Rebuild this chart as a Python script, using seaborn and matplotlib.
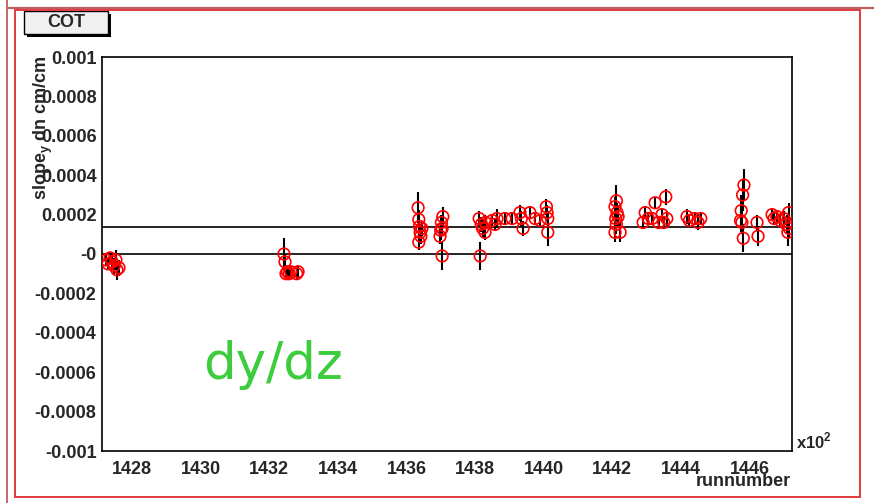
import matplotlib
matplotlib.use("Agg")
import matplotlib.pyplot as plt
import seaborn as sns
import numpy as np
import pandas as pd
from matplotlib.patches import Rectangle
from matplotlib.lines import Line2D
from matplotlib.ticker import MultipleLocator, FixedLocator

# ---------------- data (run number in units of 10^2) ----------------
run_x100 = [
    1427.24, 1427.30, 1427.36, 1427.42, 1427.48, 1427.53, 1427.56, 1427.62,
    1432.43, 1432.46, 1432.49, 1432.53, 1432.58, 1432.63, 1432.80, 1432.84,
    1436.34, 1436.36, 1436.38, 1436.40, 1436.42, 1436.36, 1436.45,
    1436.98, 1437.00, 1437.02, 1437.06, 1437.04, 1437.04,
    1438.15, 1438.12, 1438.18, 1438.22, 1438.29, 1438.30, 1438.50, 1438.58, 1438.64,
    1438.87, 1439.08, 1439.31, 1439.35, 1439.40, 1439.60, 1439.75, 1439.90,
    1440.08, 1440.10, 1440.12, 1440.12,
    1442.08, 1442.12, 1442.14, 1442.10, 1442.17, 1442.12, 1442.08, 1442.23,
    1442.90, 1442.96, 1443.05, 1443.16, 1443.25, 1443.35, 1443.45, 1443.56, 1443.59, 1443.50,
    1444.18, 1444.25, 1444.40, 1444.50, 1444.58,
    1445.84, 1445.80, 1445.76, 1445.74, 1445.78, 1445.82,
    1446.22, 1446.25,
    1446.66, 1446.72, 1446.80, 1446.90, 1447.00, 1447.08, 1447.14, 1447.16, 1447.12,
]
slope = [
    -0.00003, -0.00005, -0.00002, -0.00004, -0.00006, -0.00003, -0.00008, -0.00007,
    0.00000, -0.00004, -0.00010, -0.00009, -0.00010, -0.00009, -0.00010, -0.00009,
    0.000235, 0.000175, 0.00014, 0.00011, 0.00009, 0.00006, 0.00013,
    0.00009, 0.00012, 0.00016, 0.00019, 0.00013, -0.00001,
    -0.00001, 0.00018, 0.00015, 0.00013, 0.00011, 0.00016, 0.00017, 0.00015, 0.00018,
    0.00018, 0.00018, 0.00021, 0.00018, 0.00013, 0.00021, 0.00018, 0.00017,
    0.00024, 0.00021, 0.00018, 0.00011,
    0.00024, 0.00027, 0.00021, 0.00018, 0.00019, 0.00015, 0.00011, 0.00011,
    0.00016, 0.00021, 0.00018, 0.00018, 0.00026, 0.00016, 0.00020, 0.00029, 0.00018, 0.00016,
    0.00019, 0.00017, 0.00018, 0.00016, 0.00018,
    0.00035, 0.00030, 0.00022, 0.00017, 0.00016, 0.00008,
    0.00016, 0.00009,
    0.00020, 0.00018, 0.00019, 0.00017, 0.00018, 0.00015, 0.00021, 0.00013, 0.00011,
]
slope_err = [
    0.00003, 0.00003, 0.00003, 0.00004, 0.00004, 0.00005, 0.00005, 0.00004,
    0.00008, 0.00004, 0.00003, 0.00003, 0.00003, 0.00003, 0.00003, 0.00003,
    0.00008, 0.00005, 0.00005, 0.00004, 0.00004, 0.00004, 0.00004,
    0.00004, 0.00005, 0.00004, 0.00005, 0.00004, 0.00007,
    0.00007, 0.00004, 0.00004, 0.00005, 0.00004, 0.00004, 0.00003, 0.00003, 0.00005,
    0.00003, 0.00003, 0.00004, 0.00004, 0.00004, 0.00003, 0.00003, 0.00003,
    0.00004, 0.00004, 0.00004, 0.00007,
    0.00005, 0.00008, 0.00005, 0.00005, 0.00006, 0.00005, 0.00005, 0.00005,
    0.00003, 0.00003, 0.00003, 0.00003, 0.00003, 0.00003, 0.00003, 0.00004, 0.00004, 0.00003,
    0.00004, 0.00003, 0.00003, 0.00004, 0.00003,
    0.00008, 0.00008, 0.00008, 0.00006, 0.00006, 0.00007,
    0.00004, 0.00005,
    0.00003, 0.00003, 0.00003, 0.00003, 0.00004, 0.00005, 0.00005, 0.00005, 0.00007,
]
ref_lines = [0.0, 0.000137]
y_ticks = [-0.001, -0.0008, -0.0006, -0.0004, -0.0002, 0.0, 0.0002, 0.0004, 0.0006, 0.0008, 0.001]
y_ticklabels = ["-0.001", "-0.0008", "-0.0006", "-0.0004", "-0.0002", "-0",
                "0.0002", "0.0004", "0.0006", "0.0008", "0.001"]
x_ticks = [1428, 1430, 1432, 1434, 1436, 1438, 1440, 1442, 1444, 1446]
x_ticklabels = [str(v) for v in x_ticks]

df = pd.DataFrame({"run": run_x100, "slope": slope, "err": slope_err})

# ---------------- figure ----------------
sns.set_style("white")
plt.rcParams["font.family"] = ["Liberation Sans", "DejaVu Sans"]
plt.rcParams["mathtext.fontset"] = "custom"
plt.rcParams["mathtext.rm"] = "Liberation Sans"
plt.rcParams["mathtext.bf"] = "Liberation Sans:bold"

W, H = 874, 503
fig = plt.figure(figsize=(W / 100, H / 100), dpi=100)
fig.patch.set_facecolor("white")

def fx(px):
    return px / W

def fy(py):
    return 1 - py / H

L, R, T, B = 102, 792, 57, 451
ax = fig.add_axes([fx(L), fy(B), (R - L) / W, (B - T) / H])

for yv in ref_lines:
    ax.axhline(yv, color="black", lw=1.2, zorder=1)

ax.errorbar(df["run"], df["slope"], yerr=df["err"], fmt="none",
            ecolor="black", elinewidth=1.5, capsize=0, zorder=2)
sns.scatterplot(data=df, x="run", y="slope", ax=ax, marker="o", s=70,
                facecolor="none", edgecolor="red", linewidth=1.2, zorder=3,
                legend=False)

ax.set_xlim(1427.125, 1447.24)
ax.set_ylim(-0.001, 0.001)
ax.set_xlabel("")
ax.set_ylabel("")

ax.yaxis.set_major_locator(FixedLocator(y_ticks))
ax.set_yticklabels(y_ticklabels)
ax.yaxis.set_minor_locator(MultipleLocator(0.00005))
ax.xaxis.set_major_locator(FixedLocator(x_ticks))
ax.set_xticklabels(x_ticklabels)
ax.xaxis.set_minor_locator(MultipleLocator(0.5))

ax.tick_params(axis="y", which="major", direction="in", length=15, width=1.1,
               pad=4, labelsize=13)
ax.tick_params(axis="y", which="minor", direction="in", length=8.5, width=1.1)
ax.tick_params(axis="x", which="major", direction="in", length=8.5, width=1.1,
               pad=7, labelsize=13)
ax.tick_params(axis="x", which="minor", direction="in", length=4.3, width=1.1)
ax.tick_params(top=False, right=False, which="both")
for lab in ax.get_xticklabels() + ax.get_yticklabels():
    lab.set_fontweight("bold")
for sp in ax.spines.values():
    sp.set_color("black")
    sp.set_linewidth(1.2)
    sp.set_visible(True)

# axis titles
fig.text(fx(43), fy(55), r"slope$_{\mathbf{y}}$ dn cm/cm", rotation=90,
         ha="center", va="top", fontsize=13, fontweight="bold")
fig.text(fx(791), fy(482), "runnumber", ha="right", va="center",
         fontsize=13, fontweight="bold")
fig.text(fx(796), fy(441), r"x10$^{\mathbf{2}}$", ha="left", va="center",
         fontsize=12, fontweight="bold")

# green annotation
fig.text(fx(203), fy(379), "dy/dz", ha="left", va="baseline",
         fontsize=37, color="#3ccc3c", family="DejaVu Sans")

# title box "COT"
fig.add_artist(Rectangle((fx(27), fy(37)), (84) / W, (23) / H,
                         transform=fig.transFigure, facecolor="black",
                         edgecolor="none"))
fig.add_artist(Rectangle((fx(24), fy(34)), (84) / W, (23) / H,
                         transform=fig.transFigure, facecolor="#f0f0f0",
                         edgecolor="black", lw=1))
fig.text(fx(66), fy(22.5), "COT", ha="center", va="center",
         fontsize=13, fontweight="bold")

# outer canvas frames
fig.add_artist(Line2D([fx(7), fx(7)], [fy(0), fy(503)], transform=fig.transFigure,
                      color="#b85050", lw=1.2))
fig.add_artist(Line2D([fx(7), fx(874)], [fy(8), fy(8)], transform=fig.transFigure,
                      color="#c06060", lw=1.6))
fig.add_artist(Rectangle((fx(15), fy(497)), (860 - 15) / W, (497 - 10) / H,
                         transform=fig.transFigure, facecolor="none",
                         edgecolor="#e03a3a", lw=1.4))

fig.savefig("out.png", dpi=100)
